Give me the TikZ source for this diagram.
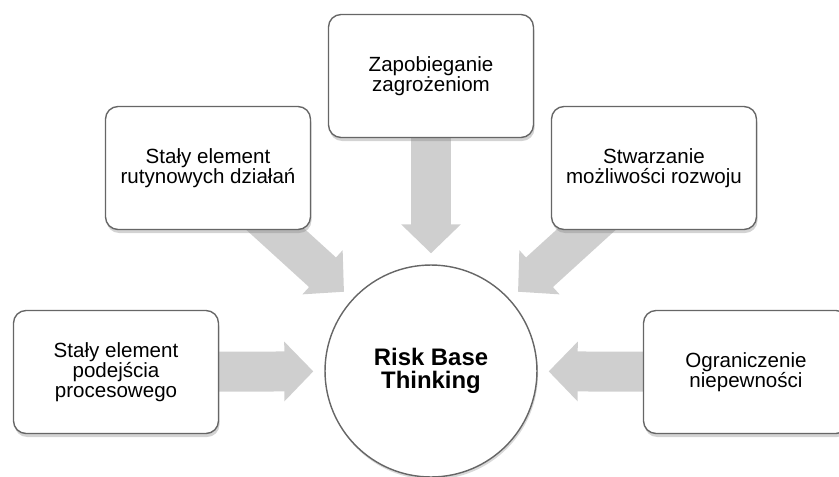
\documentclass[tikz,border=0pt]{standalone}
\usepackage{fontspec}
\setmainfont{Liberation Sans}
\usetikzlibrary{arrows.meta,shadows,backgrounds}

\begin{document}
\begin{tikzpicture}[x=0.02cm, y=-0.02cm,
  box/.style={draw=black!60, line width=0.8pt, rounded corners=0.25cm, fill=white,
    minimum width=4.1cm, minimum height=2.46cm, align=center,
    font=\fontsize{11.7}{11.4}\selectfont,
    drop shadow={shadow xshift=0.6pt, shadow yshift=-2pt, opacity=0.35}},
  core/.style={circle, draw=black!60, line width=0.8pt, fill=white,
    minimum size=4.24cm, align=center,
    font=\fontsize{13.6}{13.2}\selectfont\bfseries,
    drop shadow={shadow xshift=0.6pt, shadow yshift=-1.5pt, opacity=0.3}},
  fat/.style={line width=0.8cm, draw=gray!38,
    -{Triangle[width=1.16cm, length=0.58cm]}, shorten >=0.22cm}]
  \useasboundingbox (0,0) rectangle (839,477);
  \node[core] (R) at (431,371) {Risk Base\\Thinking};
  \node[box] (P) at (116,372) {Stały element\\podejścia\\procesowego};
  \node[box] (D) at (208,168) {Stały element\\rutynowych działań};
  \node[box] (Z) at (431,76) {Zapobieganie\\zagrożeniom};
  \node[box] (M) at (654,168) {Stwarzanie\\możliwości rozwoju};
  \node[box] (N) at (746,372) {Ograniczenie\\niepewności};
  \begin{scope}[on background layer]
    \foreach \n in {P,D,Z,M,N}
      \draw[fat] (\n.center) -- (R);
  \end{scope}
\end{tikzpicture}
\end{document}
